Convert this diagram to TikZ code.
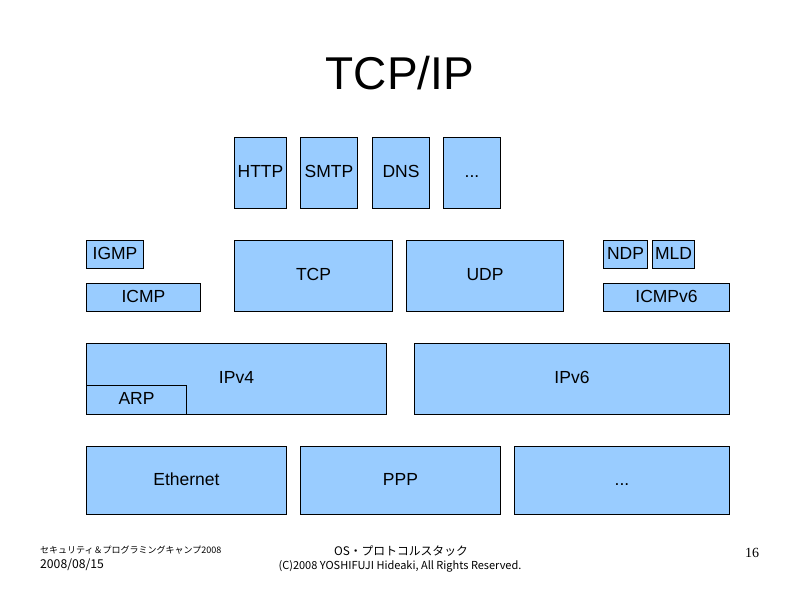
\documentclass[tikz,border=0pt]{standalone}
\usepackage{fontspec}
\setmainfont{Liberation Sans}
\newfontfamily\jpfont{Noto Sans CJK JP}
\newfontfamily\seriffont{Liberation Serif}
\definecolor{boxblue}{HTML}{99CCFF}
\begin{document}
\begin{tikzpicture}[x=1pt,y=-1pt,
  box/.style={draw=black, fill=boxblue, line width=1pt, inner sep=0pt, anchor=north west,
    font=\fontsize{17.5}{19}\selectfont, text height=12.5pt, text depth=3pt},
  foot/.style={inner sep=0pt}]
\useasboundingbox (0,0) rectangle (800,600);
\fill[white] (0,0) rectangle (800,600);
\node[inner sep=0pt, font=\fontsize{46}{50}\selectfont] (title) at (400,73) {TCP/IP};
% application
\node[box, minimum width=52pt, minimum height=71pt] (http) at (234,137) {HTTP};
\node[box, minimum width=57pt, minimum height=71pt] (smtp) at (300,137) {SMTP};
\node[box, minimum width=57pt, minimum height=71pt] (dns) at (372,137) {DNS};
\node[box, minimum width=57pt, minimum height=71pt] (appdots) at (443,137) {...};
% transport
\node[box, minimum width=57pt, minimum height=28pt] (igmp) at (86,240) {IGMP};
\node[box, minimum width=114pt, minimum height=28pt] (icmp) at (86,283) {ICMP};
\node[box, minimum width=158pt, minimum height=71pt] (tcp) at (234,240) {TCP};
\node[box, minimum width=157pt, minimum height=71pt] (udp) at (406,240) {UDP};
\node[box, minimum width=44pt, minimum height=28pt] (ndp) at (603,240) {NDP};
\node[box, minimum width=42pt, minimum height=28pt] (mld) at (652,240) {MLD};
\node[box, minimum width=126pt, minimum height=28pt] (icmpv6) at (603,283) {ICMPv6};
% network
\node[box, minimum width=300pt, minimum height=71pt] (ipv4) at (86,343) {IPv4};
\node[box, minimum width=100pt, minimum height=29pt] (arp) at (86,385) {ARP};
\node[box, minimum width=315pt, minimum height=71pt] (ipv6) at (414,343) {IPv6};
% link
\node[box, minimum width=200pt, minimum height=68pt] (eth) at (86,446) {Ethernet};
\node[box, minimum width=200pt, minimum height=68pt] (ppp) at (300,446) {PPP};
\node[box, minimum width=215pt, minimum height=68pt] (linkdots) at (514,446) {...};
% footer
\node[foot, anchor=west, font=\jpfont\fontsize{9}{10}\selectfont] (camp) at (40,550) {セキュリティ＆プログラミングキャンプ2008};
\node[foot, anchor=west, font=\jpfont\fontsize{12.2}{14}\selectfont] (date) at (40,565) {2008/08/15};
\node[foot, font=\jpfont\fontsize{11.8}{14}\selectfont] (subt) at (401,551) {OS・プロトコルスタック};
\node[foot, font=\jpfont\fontsize{11}{12}\selectfont] (copy) at (400,566) {(C)2008 YOSHIFUJI Hideaki, All Rights Reserved.};
\node[foot, font=\seriffont\fontsize{14}{15}\selectfont] (page) at (752,553) {16};
\end{tikzpicture}
\end{document}
